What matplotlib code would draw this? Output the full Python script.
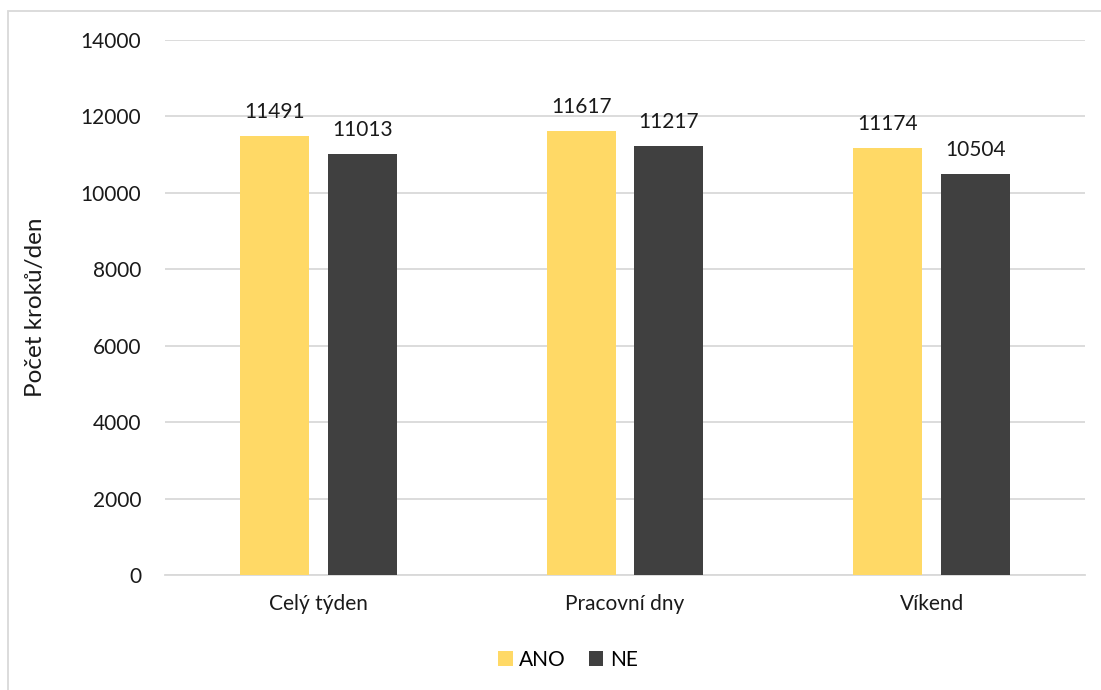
import matplotlib
matplotlib.use("Agg")
import matplotlib.pyplot as plt
from matplotlib.patches import Rectangle, Patch
import numpy as np

categories = ["Celý týden", "Pracovní dny", "Víkend"]
ano_values = [11491, 11617, 11174]
ne_values = [11013, 11217, 10504]
series_names = ["ANO", "NE"]
y_ticks = [0, 2000, 4000, 6000, 8000, 10000, 12000, 14000]

plt.rcParams["font.family"] = ["Lato", "DejaVu Sans"]

W, H = 1101, 690
fig = plt.figure(figsize=(W / 100, H / 100), dpi=100)

# chart frame
fig.patches.append(Rectangle((8 / W, -0.1), 1.2, 1 - 11 / H + 0.1,
                             transform=fig.transFigure, fill=False,
                             edgecolor="#d9d9d9", linewidth=1.3))

ax = fig.add_axes([165 / W, 1 - 575 / H, (1085 - 165) / W, (575 - 40) / H])

x = np.arange(len(categories))
width = 0.225
offset = 0.143
colors = ["#FFD966", "#404040"]
txt = "#1a1a1a"
fs = 15

b1 = ax.bar(x - offset, ano_values, width, color=colors[0], zorder=3)
b2 = ax.bar(x + offset, ne_values, width, color=colors[1], zorder=3)

for bars, vals in ((b1, ano_values), (b2, ne_values)):
    for rect, v in zip(bars, vals):
        ax.annotate(f"{v}", (rect.get_x() + rect.get_width() / 2, v),
                    xytext=(0, 10), textcoords="offset points",
                    ha="center", va="bottom", fontsize=fs, color=txt)

ax.set_xlim(-0.5, 2.5)
ax.set_ylim(0, 14000)
ax.set_yticks(y_ticks)
ax.set_yticklabels([str(t) for t in y_ticks], fontsize=fs, color=txt)
ax.set_xticks(x)
ax.set_xticklabels(categories, fontsize=fs, color=txt)
ax.tick_params(axis="both", length=0)
ax.tick_params(axis="y", pad=17)
ax.tick_params(axis="x", pad=14)

ax.grid(axis="y", color="#d9d9d9", linewidth=1.3, zorder=0)
for s in ("top", "right", "left"):
    ax.spines[s].set_visible(False)
ax.spines["bottom"].set_color("#d9d9d9")
ax.spines["bottom"].set_linewidth(1.3)

fig.text(36 / W, 1 - 307 / H, "Počet kroků/den", rotation=90,
         ha="center", va="center", fontsize=17.5, color=txt)

handles = [Patch(facecolor=c, edgecolor="none") for c in colors]
fig.legend(handles, series_names, loc="center", bbox_to_anchor=(568 / W, 1 - 660 / H),
           ncol=2, frameon=False, fontsize=fs, handlelength=0.7, handleheight=0.7,
           handletextpad=0.3, columnspacing=1.1)

fig.savefig("out.png", dpi=100)
